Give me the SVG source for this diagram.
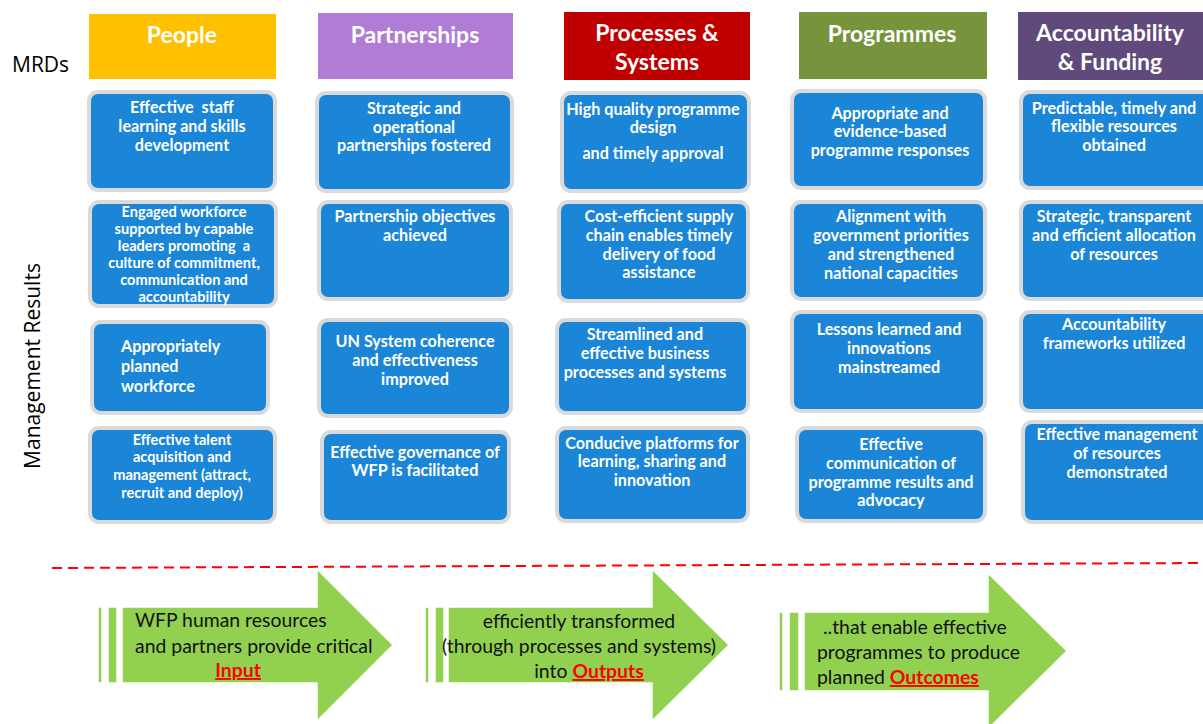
<svg xmlns="http://www.w3.org/2000/svg" width="1203" height="724" viewBox="0 0 1203 724">
<style>
.hd{font-family:Lato,"Liberation Sans",sans-serif;font-weight:bold;font-size:23px;fill:#fff;text-anchor:middle}
.bx{fill:#1B86D7;stroke:#DADADA;stroke-width:4}
.bt{font-family:Lato,"Liberation Sans",sans-serif;font-weight:bold;font-size:16.2px;fill:#fff;text-anchor:middle}
.sm{font-size:14.6px}
.st{text-anchor:start}
.lb{font-family:"Open Sans","Liberation Sans",sans-serif;font-size:21px;fill:#000}
.ar{fill:#92D050;stroke:#fff;stroke-width:1.5}
.at{font-family:Lato,"Liberation Sans",sans-serif;font-size:19.4px;fill:#111}
.rd{fill:#FF0000;font-weight:bold;text-decoration:underline}
</style>
<rect width="1203" height="724" fill="#fff"/>

<g id="labels">
<text class="lb" x="12" y="72">MRDs</text>
<text class="lb" transform="translate(40,366) rotate(-90)" text-anchor="middle">Management Results</text>
</g>

<g id="hdr-people"><rect x="89" y="14" width="187" height="65" fill="#FFC000"/><text class="hd" x="182" y="43">People</text></g>
<g id="hdr-partnerships"><rect x="318" y="13" width="195" height="66" fill="#B07CD6"/><text class="hd" x="415" y="43">Partnerships</text></g>
<g id="hdr-processes"><rect x="564" y="12" width="186" height="68" fill="#C00000"/><text class="hd" x="657" y="41">Processes &amp;</text><text class="hd" x="657" y="70">Systems</text></g>
<g id="hdr-programmes"><rect x="799" y="12" width="188" height="67" fill="#77933C"/><text class="hd" x="892" y="42">Programmes</text></g>
<g id="hdr-accountability"><rect x="1018" y="12" width="190" height="68" fill="#604A7B"/><text class="hd" x="1110" y="41">Accountability</text><text class="hd" x="1110" y="70">&amp; Funding</text></g>

<!-- People column -->
<g id="p1"><rect class="bx" x="89" y="92" width="186" height="98" rx="9"/>
<text class="bt" x="182" y="113" xml:space="preserve">Effective  staff</text><text class="bt" x="182" y="132">learning and skills</text><text class="bt" x="182" y="151">development</text></g>
<g id="p2"><rect class="bx" x="90" y="202" width="186" height="104" rx="9"/>
<text class="bt sm" x="184" y="217">Engaged workforce</text><text class="bt sm" x="184" y="234">supported by capable</text><text class="bt sm" x="184" y="251" xml:space="preserve">leaders promoting  a</text><text class="bt sm" x="184" y="268">culture of commitment,</text><text class="bt sm" x="184" y="285">communication and</text><text class="bt sm" x="184" y="302">accountability</text></g>
<g id="p3"><rect class="bx" x="92" y="322" width="176" height="91" rx="9"/>
<text class="bt st" x="121" y="352">Appropriately</text><text class="bt st" x="121" y="372">planned</text><text class="bt st" x="121" y="392">workforce</text></g>
<g id="p4"><rect class="bx" x="90" y="428" width="185" height="94" rx="9"/>
<text class="bt sm" x="182" y="445">Effective talent</text><text class="bt sm" x="182" y="462">acquisition and</text><text class="bt sm" x="182" y="480">management (attract,</text><text class="bt sm" x="182" y="498">recruit and deploy)</text></g>

<!-- Partnerships column -->
<g id="q1"><rect class="bx" x="317" y="93" width="195" height="98" rx="9"/>
<text class="bt" x="414" y="114">Strategic and</text><text class="bt" x="414" y="133">operational</text><text class="bt" x="414" y="151">partnerships fostered</text></g>
<g id="q2"><rect class="bx" x="319" y="202" width="192" height="97" rx="9"/>
<text class="bt" x="415" y="222">Partnership objectives</text><text class="bt" x="415" y="241">achieved</text></g>
<g id="q3"><rect class="bx" x="319" y="320" width="192" height="96" rx="9"/>
<text class="bt" x="415" y="347">UN System coherence</text><text class="bt" x="415" y="366">and effectiveness</text><text class="bt" x="415" y="385">improved</text></g>
<g id="q4"><rect class="bx" x="322" y="432" width="187" height="90" rx="9"/>
<text class="bt" x="415" y="458">Effective governance of</text><text class="bt" x="415" y="476">WFP is facilitated</text></g>

<!-- Processes column -->
<g id="r1"><rect class="bx" x="562" y="93" width="187" height="98" rx="9"/>
<text class="bt" x="653" y="115">High quality programme</text><text class="bt" x="653" y="133">design</text><text class="bt" x="653" y="159">and timely approval</text></g>
<g id="r2"><rect class="bx" x="559" y="202" width="189" height="99" rx="9"/>
<text class="bt" x="659" y="222">Cost-efficient supply</text><text class="bt" x="659" y="241">chain enables timely</text><text class="bt" x="659" y="260">delivery of food</text><text class="bt" x="659" y="278">assistance</text></g>
<g id="r3"><rect class="bx" x="557" y="320" width="191" height="93" rx="9"/>
<text class="bt" x="645" y="340">Streamlined and</text><text class="bt" x="645" y="359">effective business</text><text class="bt" x="645" y="378">processes and systems</text></g>
<g id="r4"><rect class="bx" x="557" y="428" width="191" height="93" rx="9"/>
<text class="bt" x="652" y="449">Conducive platforms for</text><text class="bt" x="652" y="467">learning, sharing and</text><text class="bt" x="652" y="486">innovation</text></g>

<!-- Programmes column -->
<g id="s1"><rect class="bx" x="792" y="91" width="193" height="97" rx="9"/>
<text class="bt" x="890" y="119">Appropriate and</text><text class="bt" x="890" y="137">evidence-based</text><text class="bt" x="890" y="156">programme responses</text></g>
<g id="s2"><rect class="bx" x="792" y="202" width="193" height="97" rx="9"/>
<text class="bt" x="891" y="222">Alignment with</text><text class="bt" x="891" y="241">government priorities</text><text class="bt" x="891" y="260">and strengthened</text><text class="bt" x="891" y="279">national capacities</text></g>
<g id="s3"><rect class="bx" x="792" y="312" width="193" height="99" rx="9"/>
<text class="bt" x="889" y="335">Lessons learned and</text><text class="bt" x="889" y="354">innovations</text><text class="bt" x="889" y="373">mainstreamed</text></g>
<g id="s4"><rect class="bx" x="797" y="428" width="188" height="93" rx="9"/>
<text class="bt" x="891" y="450">Effective</text><text class="bt" x="891" y="469">communication of</text><text class="bt" x="891" y="488">programme results and</text><text class="bt" x="891" y="506">advocacy</text></g>

<!-- Accountability column -->
<g id="t1"><rect class="bx" x="1021" y="92" width="190" height="96" rx="9"/>
<text class="bt" x="1114" y="114">Predictable, timely and</text><text class="bt" x="1114" y="132">flexible resources</text><text class="bt" x="1114" y="151">obtained</text></g>
<g id="t2"><rect class="bx" x="1021" y="202" width="190" height="97" rx="9"/>
<text class="bt" x="1114" y="222">Strategic, transparent</text><text class="bt" x="1114" y="241">and efficient allocation</text><text class="bt" x="1114" y="260">of resources</text></g>
<g id="t3"><rect class="bx" x="1021" y="312" width="190" height="99" rx="9"/>
<text class="bt" x="1114" y="330">Accountability</text><text class="bt" x="1114" y="349">frameworks utilized</text></g>
<g id="t4"><rect class="bx" x="1023" y="422" width="190" height="100" rx="9"/>
<text class="bt" x="1117" y="440">Effective management</text><text class="bt" x="1117" y="459">of resources</text><text class="bt" x="1117" y="478">demonstrated</text></g>

<g id="connectors">
<line x1="52" y1="568" x2="1203" y2="563" stroke="#FF0000" stroke-width="2" stroke-dasharray="10,6"/>
</g>

<g id="arrow-input">
<rect class="ar" x="98" y="607" width="4" height="76"/>
<rect class="ar" x="108" y="607" width="9" height="76"/>
<polygon class="ar" points="122,607 317,607 317,569 393,645 317,721 317,683 122,683"/>
<text class="at" x="135" y="627">WFP human resources</text>
<text class="at" x="135" y="653">and partners provide critical</text>
<text class="at rd" x="238" y="677" text-anchor="middle">Input</text>
</g>
<g id="arrow-outputs">
<rect class="ar" x="425" y="607" width="4" height="76"/>
<rect class="ar" x="435" y="607" width="9" height="76"/>
<polygon class="ar" points="448,607 652,607 652,569 729,645 652,721 652,683 448,683"/>
<text class="at" x="579" y="628" text-anchor="middle">efficiently transformed</text>
<text class="at" x="579" y="653" text-anchor="middle">(through processes and systems)</text>
<text class="at" x="589" y="678" text-anchor="middle">into <tspan class="rd">Outputs</tspan></text>
</g>
<g id="arrow-outcomes">
<rect class="ar" x="779" y="612" width="4" height="79"/>
<rect class="ar" x="789" y="612" width="10" height="79"/>
<polygon class="ar" points="804,612 988,612 988,573 1067,651 988,729 988,691 804,691"/>
<text class="at" x="823" y="634">..that enable effective</text>
<text class="at" x="817" y="659">programmes to produce</text>
<text class="at" x="817" y="684">planned <tspan class="rd">Outcomes</tspan></text>
</g>
</svg>
